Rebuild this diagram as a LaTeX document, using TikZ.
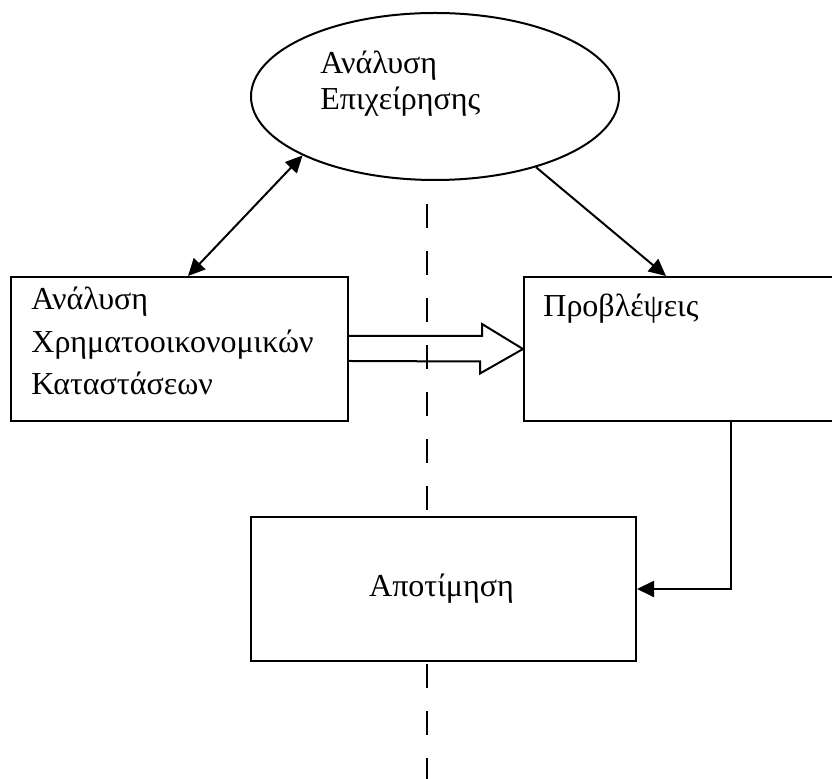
\documentclass[tikz,border=0pt]{standalone}
\usepackage{fontspec}
\setmainfont{Liberation Serif}
\usetikzlibrary{arrows.meta,shapes.geometric,calc}

\begin{document}
\begin{tikzpicture}[x=0.5pt,y=-0.5pt,
  box/.style={draw,line width=1pt,rectangle,inner sep=0pt},
  txt/.style={font=\fontsize{16}{21.25}\selectfont,align=left,inner sep=0pt},
  conn/.style={line width=1pt,-{Triangle[length=8.5pt,width=8pt]}},
  divider/.style={line width=1.1pt,dash pattern=on 12pt off 11.5pt}]

  \useasboundingbox (0,0) rectangle (832,779);
  \clip (0,0) rectangle (832,779);

  % Draw the ellipse and the boxes
  \node[ellipse,draw,line width=1pt,minimum width=184pt,minimum height=83.5pt,inner sep=0pt] (ana) at (435,96.5) {};
  \node[box,anchor=north west,minimum width=168.5pt,minimum height=72pt] (fin) at (10,276) {};
  \node[box,anchor=north west,minimum width=170pt,minimum height=72pt] (prog) at (523,276) {};
  \node[box,anchor=north west,minimum width=192.5pt,minimum height=72pt] (apot) at (250,516) {};

  % Texts (base = last line)
  \node[txt,anchor=base west,font=\fontsize{16}{18}\selectfont] (anatxt) at (320,110) {Ανάλυση\\Επιχείρησης};
  \node[txt,anchor=base west] (fintxt) at (31,395) {Ανάλυση\\Χρηματοοικονομικών\\Καταστάσεων};
  \node[txt,anchor=base west] (progtxt) at (543,317) {Προβλέψεις};
  \node[txt] (apottxt) at ($(apot.center)+(-2,0)$) {Αποτίμηση};

  % Dashed divider
  \draw[divider] ($(ana.south)+(-8,23)$) -- ($(apot.north west)+(177,0)$);
  \draw[divider] ($(apot.south west)+(177,2)$) -- (427,779);

  % Arrows
  \draw[conn,{Triangle[length=8.5pt,width=8pt]}-{Triangle[length=8.5pt,width=8pt]}]
    ($(fin.north west)+(178,0)$) -- (ana.204);
  \draw[conn] (ana.325) -- ($(prog.north west)+(143,0)$);
  \draw[conn] ($(prog.south west)+(208,0)$) |- (apot.east);

  % Hollow block arrow
  \draw[line width=1pt,line join=miter] ($(fin.east)+(0,-13)$) -- ++(133,0) -- ++(0,-12)
    -- (prog.west) -- ++(-43,24.5) -- ++(0,-12) -- ($(fin.east)+(0,12)$);

\end{tikzpicture}
\end{document}
